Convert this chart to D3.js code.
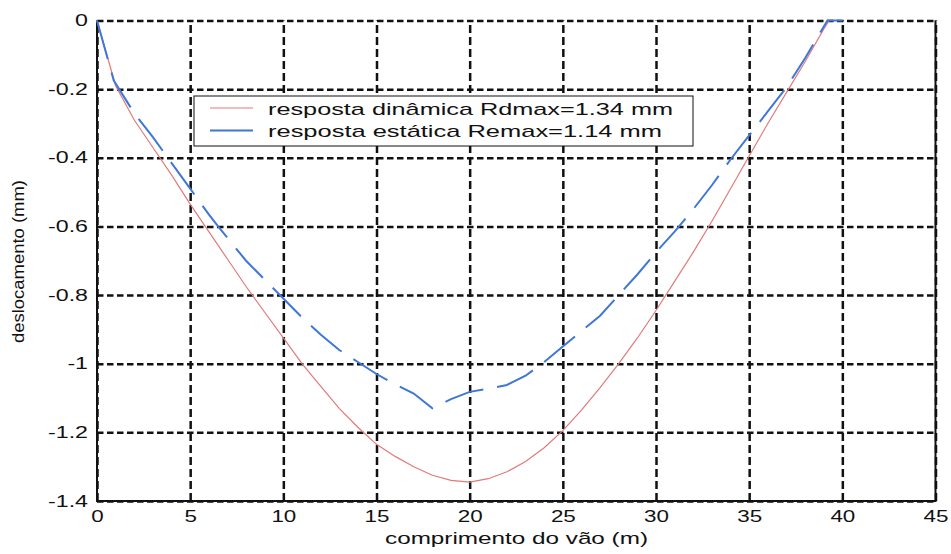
<!DOCTYPE html>
<html>
<head>
<meta charset="utf-8">
<script src="https://cdn.jsdelivr.net/npm/d3@7"></script>
<style>
  body { margin: 0; background: #fff; }
  svg { display: block; font-family: "Liberation Sans", Arial, sans-serif; }
</style>
</head>
<body>
<script>
// data
const xTicks = [0, 5, 10, 15, 20, 25, 30, 35, 40, 45];
const yTicks = [0, -0.2, -0.4, -0.6, -0.8, -1, -1.2, -1.4];
const yTickLabels = ['0', '-0.2', '-0.4', '-0.6', '-0.8', '-1', '-1.2', '-1.4'];

const dinX = [0, 1, 2, 3, 4, 5, 6, 7, 8, 9, 10, 11, 12, 13, 14, 15, 16, 17, 18, 19, 20,
  21, 22, 23, 24, 25, 26, 27, 28, 29, 30, 31, 32, 33, 34, 35, 36, 37, 38, 39, 39.3, 40];
const dinY = [0, -0.19, -0.29, -0.37, -0.45, -0.535, -0.615, -0.695, -0.775, -0.85, -0.925,
  -1.00, -1.065, -1.13, -1.185, -1.235, -1.27, -1.30, -1.325, -1.34, -1.345,
  -1.335, -1.315, -1.285, -1.245, -1.195, -1.135, -1.07, -1.00, -0.925, -0.845,
  -0.76, -0.675, -0.585, -0.49, -0.395, -0.30, -0.21, -0.12, -0.025, 0, 0];

const estX = [0, 0.9, 2, 3, 3.8, 5, 6, 6.5, 8, 9, 10, 11, 12, 13, 14, 15, 16, 17, 18, 19, 20,
  21, 22, 23, 24, 25, 26, 27, 28, 29, 30, 31, 32, 33, 34, 35, 36, 37, 38, 39.2, 40];
const estY = [0, -0.175, -0.27, -0.34, -0.4, -0.49, -0.565, -0.6, -0.7, -0.755, -0.81,
  -0.865, -0.915, -0.96, -0.995, -1.03, -1.06, -1.087, -1.13, -1.103, -1.082,
  -1.073, -1.062, -1.035, -0.995, -0.95, -0.905, -0.86, -0.8, -0.74, -0.675,
  -0.615, -0.55, -0.48, -0.405, -0.335, -0.265, -0.195, -0.11, 0, 0];

const legendLabels = ['resposta dinâmica Rdmax=1.34 mm', 'resposta estática Remax=1.14 mm'];

const width = 951, height = 554;
const plotLeft = 97, plotRight = 935.5, plotTop = 20.5, plotBottom = 501;

let svg = d3.select('body').append('svg')
  .attr('width', width)
  .attr('height', height);

let x = d3.scaleLinear().domain([0, 45]).range([plotLeft, plotRight]);
let y = d3.scaleLinear().domain([-1.4, 0]).range([plotBottom, plotTop]);

// x axis + vertical grid
let gx = svg.append('g')
  .attr('transform', `translate(0,${plotBottom})`)
  .call(d3.axisBottom(x).tickValues(xTicks).tickSize(-(plotBottom - plotTop)).tickPadding(10));
gx.select('.domain').remove();
gx.selectAll('line')
  .attr('stroke', '#111')
  .attr('stroke-width', 2.5)
  .attr('stroke-dasharray', '8,4');
gx.selectAll('text')
  .attr('font-size', 16)
  .attr('font-family', '"Liberation Sans", Arial, sans-serif')
  .attr('fill', '#111')
  .attr('transform', 'scale(1.4,1)');

// y axis + horizontal grid
let gy = svg.append('g')
  .attr('transform', `translate(${plotLeft},0)`)
  .call(d3.axisLeft(y).tickValues(yTicks).tickSize(-(plotRight - plotLeft)).tickPadding(6.2)
    .tickFormat((d, i) => yTickLabels[i]));
gy.select('.domain').remove();
gy.selectAll('line')
  .attr('stroke', '#111')
  .attr('stroke-width', 2.5)
  .attr('stroke-dasharray', '6.5,3.5');
gy.selectAll('text')
  .attr('font-size', 16)
  .attr('font-family', '"Liberation Sans", Arial, sans-serif')
  .attr('fill', '#111')
  .attr('transform', 'scale(1.45,1)');

// frame: left, bottom, right solid
svg.append('path')
  .attr('d', `M${plotLeft},${plotTop}V${plotBottom}H${plotRight}V${plotTop}`)
  .attr('fill', 'none')
  .attr('stroke', '#111')
  .attr('stroke-width', 2);

// curves
let line = d3.line().x(d => x(d[0])).y(d => y(d[1]));

svg.append('path')
  .datum(dinX.map((v, i) => [v, dinY[i]]))
  .attr('d', line)
  .attr('fill', 'none')
  .attr('stroke', '#e27a7a')
  .attr('stroke-width', 1.2);

svg.append('path')
  .datum(estX.map((v, i) => [v, estY[i]]))
  .attr('d', line)
  .attr('fill', 'none')
  .attr('stroke', '#3f77d8')
  .attr('stroke-width', 2)
  .attr('stroke-dasharray', '40,14');

// legend
let legend = svg.append('g');
legend.append('rect')
  .attr('x', 194).attr('y', 96)
  .attr('width', 499).attr('height', 50)
  .attr('fill', '#fff')
  .attr('stroke', '#111')
  .attr('stroke-width', 1);

const legendColors = ['#e27a7a', '#3f77d8'];
const legendWidths = [1.2, 2];
const legendLens = [405, 394];
legendLabels.forEach((label, i) => {
  let ly = 108 + i * 22.5;
  legend.append('line')
    .attr('x1', 210).attr('x2', 253)
    .attr('y1', ly).attr('y2', ly)
    .attr('stroke', legendColors[i])
    .attr('stroke-width', legendWidths[i]);
  legend.append('text')
    .attr('x', 268).attr('y', 115 + i * 22)
    .attr('font-size', 17)
    .attr('fill', '#111')
    .attr('textLength', legendLens[i])
    .attr('lengthAdjust', 'spacingAndGlyphs')
    .text(label);
});

// axis titles
svg.append('text')
  .attr('x', 385).attr('y', 544)
  .attr('font-size', 17)
  .attr('fill', '#111')
  .attr('textLength', 263)
  .attr('lengthAdjust', 'spacingAndGlyphs')
  .text('comprimento do vão (m)');

svg.append('text')
  .attr('transform', 'translate(24,343) rotate(-90)')
  .attr('font-size', 16)
  .attr('fill', '#111')
  .attr('textLength', 163)
  .attr('lengthAdjust', 'spacingAndGlyphs')
  .text('deslocamento (mm)');
</script>
</body>
</html>
